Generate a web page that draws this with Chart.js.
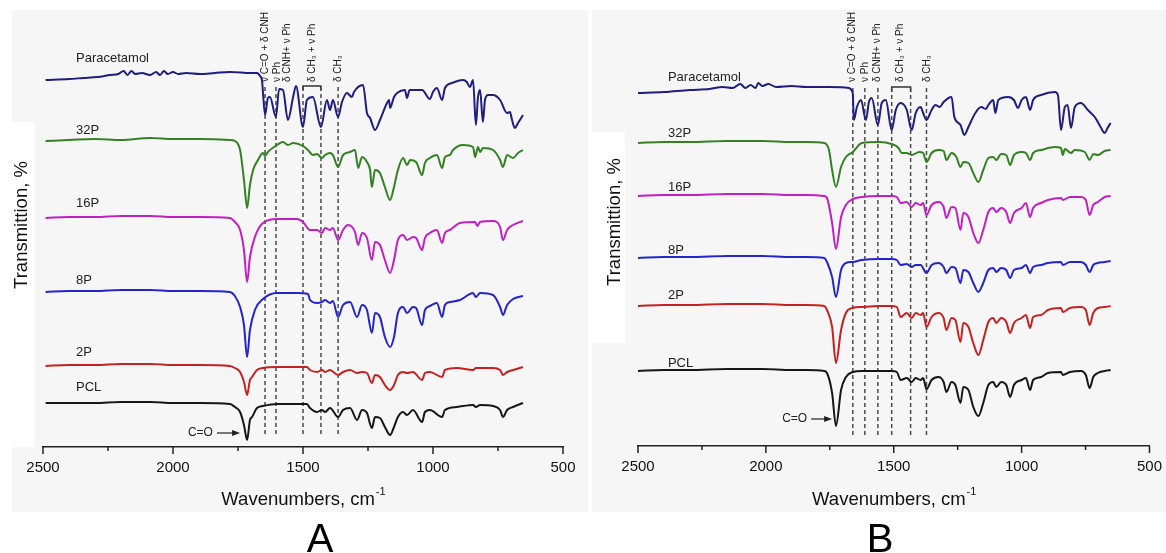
<!DOCTYPE html>
<html>
<head>
<meta charset="utf-8">
<script src="https://cdn.jsdelivr.net/npm/chart.js@4.4.1/dist/chart.umd.min.js"></script>
<style>
  html, body { margin: 0; padding: 0; background: #fff; }
  #wrap { position: relative; width: 1166px; height: 553px; overflow: hidden; }
  #panelA { position: absolute; left: 0; top: 0; }
  #panelB { position: absolute; left: 590px; top: 0; }
</style>
</head>
<body>
<div id="wrap">
  <canvas id="panelA" width="590" height="553" style="width:590px;height:553px"></canvas>
  <canvas id="panelB" width="576" height="553" style="width:576px;height:553px"></canvas>
</div>
<script>
const FONT = 'Arial, "Liberation Sans", Helvetica, sans-serif';

const seriesNames = ['Paracetamol', '32P', '16P', '8P', '2P', 'PCL'];
const seriesColors = ['#1f1d7e', '#348124', '#c020c0', '#2424cc', '#c42222', '#161616'];

const majorTicks = [2500, 2000, 1500, 1000, 500];
const minorTicks = [2250, 1750, 1250, 750];

const bandLabels = ['\u03bd C=O + \u03b4 CNH', '\u03bd Ph', '\u03b4 CNH+ \u03bd Ph', '\u03b4 CH\u2083 + \u03bd Ph', '\u03b4 CH\u2083'];

// marked bands, cm-1
const bandsA = [1646, 1604, 1500, 1431, 1365];
const bandsB = [1660, 1613, 1562, 1508, 1434, 1372];

// spectra: [wavenumber cm-1, stacked transmission (a.u.)]
const paraA = [[2490,367],[2400,368],[2346,369],[2290,370],[2242,372],[2210,373],[2190,376],[2175,372],[2160,376],[2145,373],[2120,374],[2088,372],[2065,375],[2050,372],[2035,376],[2020,373],[2000,375],[1980,373],[1950,374],[1896,373],[1840,374],[1781,375],[1700,374],[1677,374],[1665,371],[1658,367],[1646,332],[1635,349],[1627,350],[1604,330],[1592,358],[1577,357],[1558,327],[1538,350],[1527,361],[1500,320],[1485,347],[1462,350],[1431,320],[1408,347],[1396,337],[1385,347],[1365,330],[1350,345],[1331,354],[1312,350],[1304,355],[1269,362],[1254,334],[1242,329],[1223,317],[1204,327],[1177,344],[1169,347],[1165,339],[1150,350],[1138,354],[1108,357],[1100,349],[1090,357],[1042,357],[1012,348],[1000,355],[985,359],[965,347],[954,359],[927,364],[885,367],[870,365],[858,360],[846,367],[835,322],[827,350],[819,357],[808,325],[800,347],[788,352],[769,352],[742,347],[715,334],[704,335],[696,327],[685,319],[673,324],[654,332]];
const p32A = [[2490,306],[2400,307],[2300,308],[2200,307],[2088,309],[2000,308],[1896,308],[1781,307],[1762,306],[1742,297],[1727,267],[1715,239],[1704,262],[1692,277],[1673,287],[1654,294],[1646,291],[1635,295],[1600,302],[1577,305],[1558,302],[1538,304],[1500,301],[1481,297],[1462,292],[1446,293],[1427,289],[1415,292],[1396,294],[1385,292],[1365,280],[1346,292],[1319,295],[1300,297],[1288,279],[1273,290],[1254,285],[1242,277],[1235,260],[1223,277],[1204,274],[1185,260],[1165,247],[1150,260],[1135,277],[1115,289],[1100,282],[1088,287],[1065,285],[1042,272],[1031,284],[1012,289],[985,292],[965,279],[954,290],[935,292],[923,297],[885,302],[846,300],[838,290],[827,300],[819,295],[808,299],[769,297],[742,287],[731,280],[715,292],[692,289],[673,294],[654,297]];
const p16A = [[2490,229],[2400,230],[2300,230],[2200,231],[2088,231],[2000,230],[1896,230],[1781,229],[1762,225],[1742,217],[1727,197],[1715,165],[1704,190],[1685,210],[1654,224],[1600,228],[1523,228],[1500,225],[1473,217],[1446,217],[1427,214],[1415,219],[1396,217],[1385,219],[1365,207],[1346,217],[1327,222],[1300,215],[1288,202],[1273,214],[1254,209],[1235,187],[1223,205],[1204,202],[1185,187],[1165,174],[1150,187],[1135,207],[1115,212],[1100,207],[1077,210],[1065,209],[1042,197],[1031,209],[1012,214],[985,217],[965,204],[954,214],[935,217],[896,224],[838,225],[830,221],[819,225],[769,226],[742,220],[731,207],[715,217],[692,222],[654,226]];
const p8A = [[2490,155],[2400,156],[2300,156],[2200,157],[2088,157],[2000,156],[1896,156],[1781,155],[1762,151],[1742,140],[1727,122],[1715,90],[1704,117],[1685,137],[1654,148],[1600,154],[1523,154],[1481,153],[1473,147],[1446,144],[1427,145],[1415,147],[1396,144],[1385,146],[1365,130],[1346,142],[1319,145],[1292,130],[1273,142],[1254,137],[1235,114],[1223,134],[1204,130],[1185,110],[1165,100],[1150,110],[1135,134],[1115,140],[1100,134],[1077,140],[1065,139],[1042,122],[1031,137],[1012,141],[985,144],[965,130],[954,142],[935,145],[896,147],[846,154],[835,150],[819,154],[769,152],[742,140],[731,132],[715,142],[692,148],[654,151]];
const p2A = [[2490,81],[2400,82],[2300,82],[2200,83],[2088,83],[2000,82],[1896,82],[1781,81],[1762,79],[1742,75],[1727,65],[1715,52],[1704,67],[1696,70],[1677,77],[1654,79],[1600,80],[1485,80],[1473,77],[1446,75],[1427,77],[1415,75],[1396,77],[1365,72],[1346,75],[1319,77],[1292,74],[1273,75],[1254,74],[1235,64],[1223,72],[1204,70],[1185,62],[1165,57],[1150,62],[1135,72],[1115,75],[1100,74],[1077,75],[1042,67],[1031,74],[1012,75],[965,70],[954,77],[908,79],[846,77],[835,79],[769,79],[742,77],[731,72],[715,75],[692,77],[654,80]];
const pclA = [[2490,44],[2400,44],[2300,44],[2200,45],[2088,45],[2000,44],[1896,44],[1781,43],[1762,40],[1742,35],[1727,22],[1715,7],[1704,27],[1696,30],[1677,39],[1654,41],[1600,43],[1485,43],[1473,39],[1446,35],[1427,37],[1415,35],[1396,39],[1365,30],[1346,37],[1319,39],[1292,27],[1273,37],[1254,34],[1235,19],[1223,30],[1204,29],[1185,20],[1165,12],[1150,20],[1135,30],[1115,35],[1100,32],[1077,37],[1042,25],[1031,35],[1012,37],[965,30],[954,37],[908,40],[846,42],[835,40],[819,42],[769,41],[742,37],[731,30],[715,37],[692,40],[654,44]];

const paraB = [[2500,353],[2400,354],[2298,356],[2220,357],[2169,359],[2130,358],[2100,362],[2080,358],[2060,361],[2040,358],[2030,363],[2014,360],[1990,362],[1960,359],[1900,360],[1842,359],[1753,359],[1675,358],[1663,355],[1660,352],[1656,326],[1644,339],[1628,346],[1609,326],[1597,344],[1586,348],[1562,321],[1547,343],[1531,346],[1508,316],[1492,336],[1473,343],[1449,336],[1430,316],[1414,333],[1395,339],[1385,333],[1372,326],[1352,336],[1337,341],[1320,339],[1305,344],[1274,349],[1263,329],[1239,321],[1224,311],[1208,319],[1181,333],[1158,339],[1140,337],[1130,341],[1111,346],[1103,333],[1091,346],[1053,349],[1030,346],[1014,338],[1000,346],[983,349],[967,336],[955,346],[924,351],[870,354],[858,351],[846,316],[831,339],[820,341],[807,318],[792,339],[768,343],[741,336],[714,329],[702,324],[691,319],[675,313],[664,318],[652,323]];
const p32B = [[2500,303],[2400,304],[2298,304],[2150,305],[2014,305],[1900,304],[1842,304],[1772,303],[1761,301],[1753,296],[1741,276],[1726,259],[1706,279],[1687,289],[1660,294],[1625,303],[1558,304],[1508,302],[1481,298],[1469,293],[1449,293],[1430,291],[1400,294],[1385,293],[1372,284],[1352,293],[1325,296],[1305,295],[1294,286],[1274,293],[1255,289],[1239,279],[1228,284],[1208,283],[1189,273],[1169,264],[1150,276],[1130,288],[1111,289],[1099,286],[1080,292],[1060,291],[1045,281],[1030,291],[1000,294],[983,293],[967,286],[955,293],[924,296],[870,299],[846,298],[839,291],[831,297],[807,293],[792,296],[753,294],[734,286],[720,292],[702,291],[675,295],[652,296]];
const p16B = [[2500,250],[2400,251],[2298,251],[2150,252],[2014,252],[1900,251],[1842,251],[1772,250],[1761,248],[1741,223],[1726,197],[1706,229],[1687,241],[1660,247],[1625,249],[1558,250],[1508,250],[1488,249],[1473,243],[1449,244],[1430,239],[1414,243],[1395,241],[1385,243],[1372,231],[1352,241],[1325,244],[1305,239],[1294,228],[1274,239],[1259,238],[1239,216],[1228,233],[1208,229],[1189,213],[1169,203],[1150,216],[1130,234],[1111,238],[1099,234],[1080,238],[1060,234],[1045,223],[1030,233],[1000,238],[983,243],[967,229],[955,238],[924,243],[897,246],[846,248],[839,246],[811,249],[768,249],[749,246],[734,231],[720,241],[702,244],[675,249],[652,250]];
const p8B = [[2500,188],[2400,189],[2298,189],[2150,190],[2014,190],[1900,189],[1842,189],[1772,188],[1761,184],[1741,169],[1726,149],[1706,176],[1687,183],[1660,184],[1625,186],[1558,187],[1508,187],[1488,186],[1473,181],[1449,182],[1430,179],[1414,181],[1395,181],[1372,173],[1352,181],[1325,183],[1305,179],[1294,173],[1274,179],[1259,178],[1239,163],[1228,176],[1208,174],[1189,163],[1169,154],[1150,163],[1130,176],[1111,178],[1099,174],[1080,178],[1060,176],[1045,168],[1030,176],[1000,178],[983,181],[967,173],[955,179],[924,181],[897,183],[846,184],[839,181],[811,184],[768,184],[749,181],[734,174],[720,181],[702,183],[675,184],[652,185]];
const p2B = [[2500,140],[2400,141],[2298,141],[2150,142],[2014,142],[1900,141],[1842,141],[1772,140],[1761,136],[1741,119],[1726,83],[1706,116],[1687,133],[1660,138],[1625,139],[1558,140],[1508,140],[1488,139],[1473,129],[1449,133],[1430,128],[1414,133],[1395,131],[1385,133],[1372,119],[1352,129],[1325,133],[1305,128],[1294,116],[1274,128],[1259,126],[1239,104],[1228,123],[1208,119],[1189,103],[1169,91],[1150,106],[1130,124],[1111,128],[1099,123],[1080,128],[1060,124],[1045,113],[1030,123],[1000,128],[983,131],[967,118],[955,129],[924,131],[897,136],[846,138],[839,134],[811,138],[768,139],[749,136],[734,121],[720,133],[702,138],[675,139],[652,140]];
const pclB = [[2500,75],[2400,76],[2298,76],[2150,77],[2014,77],[1900,76],[1842,76],[1772,75],[1761,73],[1741,53],[1726,20],[1706,56],[1687,69],[1660,74],[1625,75],[1508,75],[1488,74],[1473,66],[1449,68],[1430,64],[1414,68],[1395,66],[1385,68],[1372,57],[1352,66],[1325,69],[1305,64],[1294,54],[1274,64],[1259,61],[1239,43],[1228,59],[1208,56],[1189,39],[1169,30],[1150,43],[1130,61],[1111,64],[1099,59],[1080,64],[1060,61],[1045,49],[1030,61],[1000,66],[983,68],[967,56],[955,66],[924,69],[897,73],[846,74],[839,71],[811,74],[768,75],[749,71],[734,58],[720,69],[702,73],[675,75],[652,76]];

const spectraA = [paraA, p32A, p16A, p8A, p2A, pclA];
const spectraB = [paraB, p32B, p16B, p8B, p2B, pclB];

function spectrumSets(spectra) {
  return spectra.map((s, i) => ({
    label: seriesNames[i],
    data: s.map(p => ({ x: p[0], y: p[1] })),
    borderColor: seriesColors[i],
    borderWidth: 2,
    pointRadius: 0,
    cubicInterpolationMode: 'monotone',
    order: 0
  }));
}

function bandSets(bands, top, bottom) {
  return bands.map(w => ({
    data: [{ x: w, y: top }, { x: w, y: bottom }],
    borderColor: '#4a4a4a',
    borderWidth: 1.5,
    borderDash: [4, 3],
    pointRadius: 0,
    order: 1
  }));
}

function bracketSet(w1, w2, v, drop) {
  return {
    data: [{ x: w1, y: v - drop }, { x: w1, y: v }, { x: w2, y: v }, { x: w2, y: v - drop }],
    borderColor: '#333',
    borderWidth: 1.5,
    pointRadius: 0,
    order: 1
  };
}

// text, ticks, titles and the grey panel
const decor = {
  id: 'decor',
  beforeDraw(chart, args, o) {
    const c = chart.ctx;
    c.save();
    c.fillStyle = '#f6f6f6';
    c.fillRect(o.bg[0], o.bg[1], o.bg[2], o.bg[3]);
    c.fillStyle = '#ffffff';
    c.fillRect(o.hole[0], o.hole[1], o.hole[2], o.hole[3]);
    c.restore();
  },
  afterDraw(chart, args, o) {
    const c = chart.ctx, xs = chart.scales.x, ys = chart.scales.y, area = chart.chartArea;
    c.save();

    // tick marks
    c.strokeStyle = '#222';
    c.lineWidth = 1.5;
    majorTicks.forEach(w => {
      const px = xs.getPixelForValue(w);
      c.beginPath(); c.moveTo(px, area.bottom); c.lineTo(px, area.bottom + 7); c.stroke();
    });
    minorTicks.forEach(w => {
      const px = xs.getPixelForValue(w);
      c.beginPath(); c.moveTo(px, area.bottom); c.lineTo(px, area.bottom + 4); c.stroke();
    });

    // sample names
    c.fillStyle = '#222';
    c.font = '13px ' + FONT;
    c.textAlign = 'left';
    c.textBaseline = 'middle';
    seriesNames.forEach((n, i) => {
      c.fillText(n, xs.getPixelForValue(o.nameX), ys.getPixelForValue(o.nameY[i]));
    });

    // band assignments, rotated
    c.font = '10px ' + FONT;
    o.assign.forEach((w, i) => {
      c.save();
      c.translate(xs.getPixelForValue(w), ys.getPixelForValue(o.assignY));
      c.rotate(-Math.PI / 2);
      c.fillText(bandLabels[i], 0, 0);
      c.restore();
    });

    // C=O arrow
    const ax1 = xs.getPixelForValue(o.arrow[0]), ax2 = xs.getPixelForValue(o.arrow[1]);
    const ay = ys.getPixelForValue(o.arrow[2]);
    c.font = '12px ' + FONT;
    c.textAlign = 'right';
    c.fillText('C=O', ax1 - 4, ay);
    c.strokeStyle = '#222';
    c.lineWidth = 1.2;
    c.beginPath(); c.moveTo(ax1, ay); c.lineTo(ax2 - 6, ay); c.stroke();
    c.beginPath(); c.moveTo(ax2, ay); c.lineTo(ax2 - 8, ay - 3); c.lineTo(ax2 - 8, ay + 3); c.closePath(); c.fill();

    // x axis title with superscript
    const cx = (area.left + area.right) / 2;
    c.fillStyle = '#111';
    c.font = '18.5px ' + FONT;
    const main = 'Wavenumbers, cm';
    const mw = c.measureText(main).width;
    c.font = '11px ' + FONT;
    const sw = c.measureText('-1').width;
    const x0 = cx - (mw + sw) / 2;
    c.textAlign = 'left';
    c.font = '18.5px ' + FONT;
    c.fillText(main, x0, o.titleY);
    c.font = '11px ' + FONT;
    c.fillText('-1', x0 + mw + 1, o.titleY - 8);

    // y axis title
    c.save();
    c.font = '18.5px ' + FONT;
    c.textAlign = 'center';
    c.translate(o.yTitle[0], o.yTitle[1]);
    c.rotate(-Math.PI / 2);
    c.fillText('Transmittion, %', 0, 0);
    c.restore();

    // panel letter
    c.font = '40px ' + FONT;
    c.textAlign = 'center';
    c.textBaseline = 'alphabetic';
    c.fillStyle = '#000';
    c.fillText(o.letter, o.letterX, 552);

    c.restore();
  }
};

function makePanel(id, spectra, bands, bracket, yMax, pad, extra) {
  const datasets = spectrumSets(spectra)
    .concat(bandSets(bands, extra.bandTop, extra.bandBottom))
    .concat([bracketSet(bracket[0], bracket[1], bracket[2], bracket[3])]);
  return new Chart(document.getElementById(id), {
    type: 'line',
    data: { datasets: datasets },
    plugins: [decor],
    options: {
      responsive: false,
      animation: false,
      events: [],
      layout: { padding: pad },
      plugins: { legend: { display: false }, tooltip: { enabled: false }, decor: extra },
      scales: {
        x: {
          type: 'linear',
          min: 500,
          max: 2500,
          reverse: true,
          afterFit(s) { s.height = 30; },
          grid: { display: false, drawTicks: true, tickLength: 8 },
          border: { display: true, color: '#222', width: 1.5 },
          ticks: { stepSize: 500, padding: 4, color: '#111', maxRotation: 0, autoSkip: false,
                   font: { size: 15, family: FONT },
                   callback: v => String(v) }
        },
        y: { display: false, min: 0, max: yMax }
      }
    }
  });
}

makePanel('panelA', spectraA, bandsA, [1500, 1431, 361, 4], 437,
  { left: 43, right: 27, top: 10, bottom: 76 },
  {
    bg: [12, 10, 576, 502], hole: [0, 122, 35, 325],
    nameX: 2373, nameY: [389, 317, 244, 167, 95, 60],
    assign: [1646, 1600, 1562, 1465, 1365], assignY: 365,
    bandTop: 360, bandBottom: 10,
    arrow: [1831, 1742, 14],
    titleY: 500, yTitle: [22, 225], letter: 'A', letterX: 320
  });

makePanel('panelB', spectraB, bandsB, [1508, 1434, 359, 5], 436,
  { left: 48, right: 14, top: 10, bottom: 77 },
  {
    bg: [2, 10, 574, 502], hole: [0, 132, 35, 211],
    nameX: 2383, nameY: [369, 313, 259, 196, 151, 83],
    assign: [1664, 1613, 1566, 1473, 1368], assignY: 364,
    bandTop: 358, bandBottom: 9,
    arrow: [1823, 1741, 27],
    titleY: 500, yTitle: [25, 222], letter: 'B', letterX: 290
  });
</script>
</body>
</html>
